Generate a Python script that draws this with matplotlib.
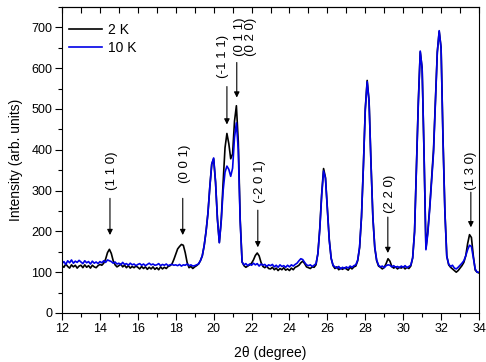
import matplotlib
matplotlib.use('Agg')
import matplotlib.pyplot as plt
from matplotlib.ticker import MultipleLocator

plt.rcParams['font.family'] = ['Liberation Sans', 'DejaVu Sans']

# 2theta grid 12.0 .. 34.0, step 0.1 (one row per degree)
two_theta = [12.0 + i / 10 for i in range(221)]

# 2 K
i_2k = [
    116, 112, 120, 114, 110, 118, 113, 117, 110, 115,
    117, 111, 118, 112, 116, 110, 117, 113, 111, 116,
    119, 117, 122, 132, 148, 156, 146, 128, 118, 113,
    116, 120, 113, 117, 111, 116, 110, 114, 111, 115,
    112, 108, 114, 109, 113, 107, 112, 108, 113, 107,
    111, 106, 113, 108, 112, 109, 114, 116, 120, 131,
    144, 157, 163, 168, 166, 148, 124, 111, 114, 109,
    113, 116, 120, 128, 140, 165, 200, 245, 310, 365,
    378, 320, 230, 173, 228, 320, 405, 440, 415, 378,
    390, 470, 508, 420, 230, 125, 116, 112, 115, 118,
    122, 130, 141, 147, 140, 124, 114, 111, 115, 109,
    108, 112, 106, 110, 104, 109, 106, 111, 105, 108,
    104, 110, 106, 112, 114, 117, 123, 127, 121, 113,
    111, 109, 113, 112, 118, 146, 208, 292, 354, 332,
    258, 180, 134, 116, 109, 113, 106, 110, 107, 111,
    108, 105, 112, 108, 113, 115, 128, 160, 235, 360,
    500, 570, 520, 370, 235, 160, 128, 115, 112, 108,
    112, 121, 133, 127, 114, 110, 113, 108, 112, 110,
    113, 108, 112, 109, 115, 135, 200, 360, 520, 640,
    600, 390, 158, 200, 260, 330, 400, 520, 640, 690,
    650, 430, 250, 140, 118, 112, 108, 104, 100, 104,
    110, 116, 124, 140, 170, 192, 185, 140, 105, 100,
    98,
]

# 10 K
i_10k = [
    121, 126, 119, 128, 123, 130, 122, 127, 124, 129,
    125, 121, 128, 123, 126, 120, 127, 122, 125, 121,
    126, 123, 128, 124, 130, 128, 126, 122, 125, 120,
    122, 118, 124, 119, 121, 117, 122, 118, 120, 116,
    119, 121, 117, 120, 116, 119, 122, 118, 120, 117,
    118, 121, 116, 119, 117, 120, 116, 118, 119, 117,
    118, 116, 119, 115, 118, 117, 120, 116, 118, 115,
    116, 118, 120, 128, 140, 165, 200, 245, 310, 365,
    380, 322, 230, 172, 225, 300, 345, 360, 352, 335,
    355, 430, 466, 400, 225, 125, 118, 121, 116, 120,
    117, 122, 118, 121, 115, 120, 117, 119, 114, 118,
    116, 119, 113, 117, 112, 118, 114, 116, 112, 117,
    113, 118, 115, 119, 122, 128, 133, 131, 124, 118,
    116, 118, 114, 117, 121, 145, 205, 288, 348, 330,
    255, 178, 134, 117, 113, 110, 114, 108, 112, 109,
    113, 110, 115, 112, 116, 118, 130, 162, 236, 358,
    498, 567, 518, 368, 236, 162, 130, 117, 113, 115,
    111, 116, 118, 117, 113, 116, 112, 114, 111, 115,
    112, 116, 111, 114, 117, 135, 198, 355, 515, 642,
    598, 395, 155, 195, 255, 325, 392, 515, 638, 692,
    648, 425, 248, 138, 120, 114, 117, 110, 108, 112,
    117, 122, 128, 140, 155, 166, 163, 135, 108, 100,
    100,
]

# reflection arrows: 2theta, arrow start, arrow tip
arrow_x = [14.53, 18.37, 20.70, 21.22, 22.33, 29.19, 33.57]
arrow_top = [281, 281, 555, 614, 252, 235, 296]
arrow_tip = [191, 191, 462, 528, 161, 147, 210]

# reflection labels: text, 2theta, bottom of text
hkl_labels = ['(1 1 0)', '(0 0 1)', '(-1 1 1)', '(0 1 1)', '(0 2 0)', '(-2 0 1)', '(2 2 0)', '(1 3 0)']
hkl_x = [14.63, 18.47, 20.48, 21.40, 21.98, 22.45, 29.30, 33.57]
hkl_y = [301, 318, 575, 631, 631, 269, 245, 301]

fig = plt.figure(figsize=(4.86, 3.62), dpi=100)
ax = fig.add_axes([0.1276, 0.1354, 0.858, 0.8453])

ax.plot(two_theta, i_2k, color='k', lw=1.2, label='2 K')
ax.plot(two_theta, i_10k, color='#0000e6', lw=1.2, label='10 K')

for x, y0, y1 in zip(arrow_x, arrow_top, arrow_tip):
    ax.annotate('', xy=(x, y1), xytext=(x, y0),
                arrowprops=dict(arrowstyle='-|>', color='k', lw=0.8,
                                shrinkA=0, shrinkB=0, mutation_scale=8))
for lab, x, y in zip(hkl_labels, hkl_x, hkl_y):
    ax.text(x, y, lab, rotation=90, ha='center', va='bottom', fontsize=9.5)

ax.set_xlim(12, 34)
ax.set_ylim(0, 750)
ax.xaxis.set_major_locator(MultipleLocator(2))
ax.xaxis.set_minor_locator(MultipleLocator(1))
ax.yaxis.set_major_locator(MultipleLocator(100))
ax.yaxis.set_minor_locator(MultipleLocator(50))
ax.tick_params(which='major', direction='out', length=5, width=0.8, labelsize=9, pad=2)
ax.tick_params(which='minor', direction='out', length=3, width=0.8)
ax.tick_params(right=False, top=False)

top = ax.secondary_xaxis('top')
top.xaxis.set_major_locator(MultipleLocator(1))
top.tick_params(direction='in', length=4, width=0.8, labeltop=False)

for s in ax.spines.values():
    s.set_linewidth(0.8)

ax.set_xlabel('2θ (degree)', fontsize=10, labelpad=8)
ax.set_ylabel('Intensity (arb. units)', fontsize=10, labelpad=6)

ax.legend(loc='upper left', bbox_to_anchor=(0.0, 0.97), frameon=False, fontsize=10,
          handlelength=2.4, handletextpad=0.4, labelspacing=0.3, borderaxespad=0.1)

plt.savefig('out.png', dpi=100)
